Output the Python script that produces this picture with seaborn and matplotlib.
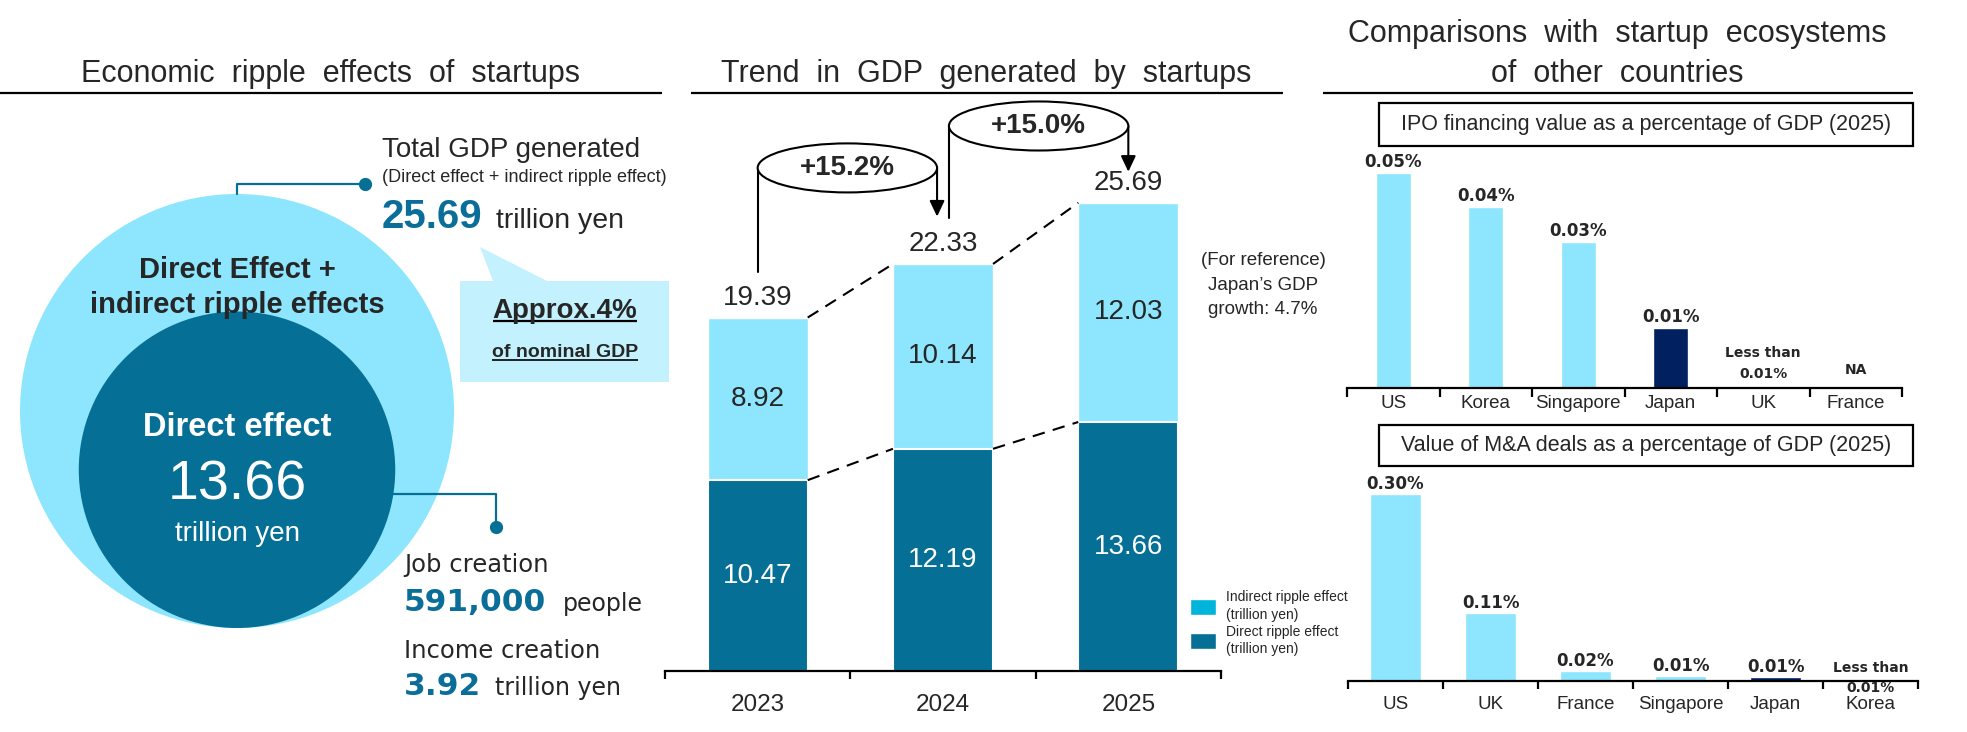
import numpy as np
import pandas as pd
import seaborn as sns
import matplotlib.pyplot as plt
from matplotlib.patches import Circle, Rectangle, Polygon, Ellipse, Patch

# --- values ---
total_gdp = 25.69
direct_gdp = 13.66
jobs_created = "591,000"
income_created = 3.92
share_of_nominal_gdp = "Approx.4%"

years = ["2023", "2024", "2025"]
direct_effect = [10.47, 12.19, 13.66]
indirect_effect = [8.92, 10.14, 12.03]
total_effect = [19.39, 22.33, 25.69]
japan_gdp_growth = 4.7

ipo_countries = ["US", "Korea", "Singapore", "Japan", "UK", "France"]
ipo_values = [0.050, 0.042, 0.034, 0.014, 0.0003, np.nan]
ipo_labels = ["0.05%", "0.04%", "0.03%", "0.01%", "Less than\n0.01%", "NA"]

ma_countries = ["US", "UK", "France", "Singapore", "Japan", "Korea"]
ma_values = [0.300, 0.109, 0.016, 0.008, 0.006, 0.0005]
ma_labels = ["0.30%", "0.11%", "0.02%", "0.01%", "0.01%", "Less than\n0.01%"]

# colours
LIGHT = "#8DE6FD"
DARK = "#056F95"
NAVY = "#002060"
BUBBLE = "#C4F1FE"
LEG_LIGHT = "#00B4DC"
TEAL = "#0B6E99"

W, H = 1967, 732
SANS = ["Liberation Sans", "DejaVu Sans"]
VERD = ["DejaVu Sans"]


def px_axes(fig, x0, x1, ybot, ytop):
    """Axes placed by pixel edges (y measured from the top)."""
    return fig.add_axes([x0 / W, 1 - ybot / H, (x1 - x0) / W, (ybot - ytop) / H])


def style_cat_axis(ax, n, pad, size, tick_len):
    ax.set_xlim(-0.5, n - 0.5)
    ax.set_xlabel("")
    ax.set_ylabel("")
    ax.set_yticks([])
    for s in ["left", "top", "right"]:
        ax.spines[s].set_visible(False)
    ax.spines["bottom"].set_linewidth(1.6)
    ax.spines["bottom"].set_color("black")
    ax.set_xticks(np.arange(-0.5, n, 1.0), minor=True)
    ax.tick_params(axis="x", which="both", bottom=True)
    ax.tick_params(axis="x", which="major", length=0, pad=pad, labelsize=size)
    ax.tick_params(axis="x", which="minor", length=tick_len, width=1.6, color="black", direction="out")
    ax.patch.set_alpha(0)


def draw_trend(fig):
    ax = px_axes(fig, 665, 1221, 671, 95)
    df = pd.DataFrame({"year": years, "direct": direct_effect,
                       "indirect": indirect_effect, "total": total_effect})
    sns.barplot(data=df, x="year", y="total", color=LIGHT, saturation=1,
                width=0.54, ax=ax)
    sns.barplot(data=df, x="year", y="direct", color=DARK, saturation=1,
                width=0.54, edgecolor="white", linewidth=1.5, ax=ax)
    ax.set_ylim(0, 31.6)
    style_cat_axis(ax, len(years), pad=16.5, size=17.5, tick_len=6)

    for i, row in df.iterrows():
        ax.text(i, row.direct / 2, f"{row.direct:.2f}", color="white",
                ha="center", va="center", fontsize=20)
        ax.text(i, row.direct + row.indirect / 2, f"{row.indirect:.2f}",
                ha="center", va="center", fontsize=20)
        ax.annotate(f"{row.total:.2f}", (i, row.total), xytext=(0, 9.4),
                    textcoords="offset points", ha="center", va="baseline",
                    fontsize=20)

    # dashed connectors between bar tops
    hw = 0.27
    for i in range(len(years) - 1):
        for series in (total_effect, direct_effect):
            ax.plot([i + hw, i + 1 - hw], [series[i], series[i + 1]],
                    color="black", lw=1.5, ls=(0, (6, 4)))

    # growth "cylinders"
    spans = [(0.0, 0.968), (1.032, 2.0)]
    cyl_y = [27.6, 29.9]
    arrow_gap = [2.6, 1.7]
    for i, (l, r) in enumerate(spans):
        growth = (total_effect[i + 1] / total_effect[i] - 1) * 100
        cy = cyl_y[i]
        ax.plot([l, l], [cy, total_effect[i] + 2.5], color="black", lw=1.5,
                clip_on=False)
        ax.annotate("", xy=(r, total_effect[i + 1] + arrow_gap[i]), xytext=(r, cy),
                    arrowprops=dict(arrowstyle="-|>,head_width=0.45,head_length=0.95",
                                    color="black", lw=1.5, shrinkA=0, shrinkB=0),
                    annotation_clip=False)
        ax.add_patch(Ellipse(((l + r) / 2, cy), r - l, 2.69, fc="white",
                             ec="black", lw=1.5, clip_on=False, zorder=3))
        ax.text((l + r) / 2, cy, f"+{growth:.1f}%", ha="center", va="center",
                fontsize=20, fontweight="bold", zorder=4)

    handles = [Patch(fc=LEG_LIGHT, label="Indirect ripple effect\n(trillion yen)"),
               Patch(fc=DARK, label="Direct ripple effect\n(trillion yen)")]
    leg = ax.legend(handles=handles, loc="upper left",
                    bbox_to_anchor=(1190 / W, 1 - 590 / H),
                    bbox_transform=fig.transFigure, frameon=False,
                    fontsize=10, handlelength=1.9, handleheight=1.4,
                    handletextpad=0.7, labelspacing=0.2, borderpad=0,
                    borderaxespad=0)
    for t in leg.get_texts():
        t.set_linespacing(1.35)
    return ax


def draw_share(fig, box, countries, values, labels, width, ylim, pad, tick_len,
               label_off, small_off):
    ax = px_axes(fig, *box)
    df = pd.DataFrame({"country": countries, "value": values})
    palette = [NAVY if c == "Japan" else LIGHT for c in countries]
    sns.barplot(data=df, x="country", y="value", hue="country", order=countries,
                hue_order=countries, palette=palette, saturation=1, width=width,
                legend=False, ax=ax)
    ax.set_ylim(0, ylim)
    style_cat_axis(ax, len(countries), pad=pad, size=13.5, tick_len=tick_len)
    for i, (v, lab) in enumerate(zip(values, labels)):
        y = 0 if np.isnan(v) else v
        if "\n" in lab:
            ax.annotate(lab, (i, y), xytext=(0, small_off), textcoords="offset points",
                        ha="center", va="center", fontsize=10, fontweight="bold",
                        family=VERD, linespacing=1.6, annotation_clip=False)
        elif lab == "NA":
            ax.annotate(lab, (i, y), xytext=(0, 13), textcoords="offset points",
                        ha="center", va="center", fontsize=10, fontweight="bold",
                        family=VERD)
        else:
            ax.annotate(lab, (i, y), xytext=(0, label_off), textcoords="offset points",
                        ha="center", va="center", fontsize=12, fontweight="bold",
                        family=VERD)
    return ax


def draw_overlay(fig):
    ax = fig.add_axes([0, 0, 1, 1], zorder=5)
    ax.set_xlim(0, W)
    ax.set_ylim(H, 0)
    ax.axis("off")
    ax.patch.set_visible(False)

    def txt(x, y, s, size, **kw):
        kw.setdefault("ha", "left")
        kw.setdefault("va", "baseline")
        return ax.text(x, y, s, fontsize=size, **kw)

    # section titles
    txt(330, 82, "Economic  ripple  effects  of  startups", 22, ha="center")
    txt(986, 82, "Trend  in  GDP  generated  by  startups", 22, ha="center")
    txt(1617, 42, "Comparisons  with  startup  ecosystems", 22, ha="center")
    txt(1617, 82, "of  other  countries", 22, ha="center")
    for x0, x1 in [(0, 662), (691, 1283), (1323, 1913)]:
        ax.plot([x0, x1], [93, 93], color="black", lw=1.6, solid_capstyle="butt")

    # nested circles, areas scaled to the values
    cx, bottom = 237, 628
    r_out = 217
    r_in = r_out * np.sqrt(direct_gdp / total_gdp)
    cy_in = bottom - r_in
    ax.add_patch(Circle((cx, bottom - r_out), r_out, fc=LIGHT, ec="none"))
    ax.add_patch(Circle((cx, cy_in), r_in, fc=DARK, ec="none"))
    txt(cx, 278, "Direct Effect +", 21, ha="center", fontweight="bold")
    txt(cx, 313, "indirect ripple effects", 21, ha="center", fontweight="bold")
    txt(cx, 436, "Direct effect", 23.5, ha="center", fontweight="bold", color="white")
    txt(cx, 500, f"{direct_gdp:.2f}", 40, ha="center", color="white")
    txt(cx, 541, "trillion yen", 20, ha="center", color="white")

    # callout to total
    ax.plot([cx, cx, 365], [bottom - 2 * r_out, 184, 184], color=DARK, lw=1.6)
    ax.plot([365], [184], "o", color=DARK, ms=8.5)
    txt(382, 157, "Total GDP generated", 20)
    txt(382, 182, "(Direct effect + indirect ripple effect)", 13)
    txt(382, 228, f"{total_gdp:.2f}", 29, fontweight="bold", color=TEAL)
    txt(496, 228, "trillion yen", 20.5)

    # speech bubble
    ax.add_patch(Polygon([(480, 247), (493, 281), (547, 281)], fc=BUBBLE, ec="none"))
    ax.add_patch(Rectangle((460, 281), 209, 101, fc=BUBBLE, ec="none"))
    t1 = txt(565, 318, share_of_nominal_gdp, 20, ha="center", fontweight="bold")
    t2 = txt(565, 357, "of nominal GDP", 14, ha="center", fontweight="bold")

    # callout to jobs / income
    yc = 494
    x_edge = cx + np.sqrt(r_in ** 2 - (yc - cy_in) ** 2)
    ax.plot([x_edge, 496, 496], [yc, yc, 527], color=DARK, lw=1.6)
    ax.plot([496], [527], "o", color=DARK, ms=8.5)
    txt(404, 572, "Job creation", 17.5, family=VERD)
    txt(404, 611, jobs_created, 22.5, family=VERD, fontweight="bold", color=TEAL)
    txt(563, 611, "people", 17, family=VERD)
    txt(404, 658, "Income creation", 17.5, family=VERD)
    txt(404, 695, f"{income_created:.2f}", 22.5, family=VERD, fontweight="bold", color=TEAL)
    txt(495, 695, "trillion yen", 17, family=VERD)

    txt(1263, 285, f"(For reference)\nJapan\u2019s GDP\ngrowth: {japan_gdp_growth}%",
        13.5, ha="center", va="center", multialignment="center", linespacing=1.6)

    # subtitle boxes
    for y0, y1, s in [(103, 146, "IPO financing value as a percentage of GDP (2025)"),
                      (425, 466, "Value of M&A deals as a percentage of GDP (2025)")]:
        ax.add_patch(Rectangle((1379, y0), 1913 - 1379, y1 - y0, fc="none",
                               ec="black", lw=1.6))
        txt(1646, (y0 + y1) / 2, s, 15.5, ha="center", va="center")

    # underline the bubble text
    fig.canvas.draw()
    inv = ax.transData.inverted()
    for t, y, lw in [(t1, 321, 1.6), (t2, 360, 1.2)]:
        bb = t.get_window_extent()
        (xa, _), (xb, _) = inv.transform([(bb.x0, bb.y0), (bb.x1, bb.y0)])
        ax.plot([xa, xb], [y, y], color="black", lw=lw, solid_capstyle="butt")
    return ax


def main():
    sns.set_style("white")
    plt.rcParams["font.family"] = SANS
    fig = plt.figure(figsize=(W / 100, H / 100), dpi=100, facecolor="white")

    draw_trend(fig)
    draw_share(fig, (1347, 1902, 388, 150), ipo_countries, ipo_values, ipo_labels,
               width=0.38, ylim=0.0553, pad=5, tick_len=6.5, label_off=8,
               small_off=16.5)
    draw_share(fig, (1348, 1918, 681, 470), ma_countries, ma_values, ma_labels,
               width=0.54, ylim=0.3387, pad=10.5, tick_len=6, label_off=7.2,
               small_off=2)
    draw_overlay(fig)

    fig.savefig("out.png", dpi=100, facecolor="white")
    plt.close(fig)


if __name__ == "__main__":
    main()
